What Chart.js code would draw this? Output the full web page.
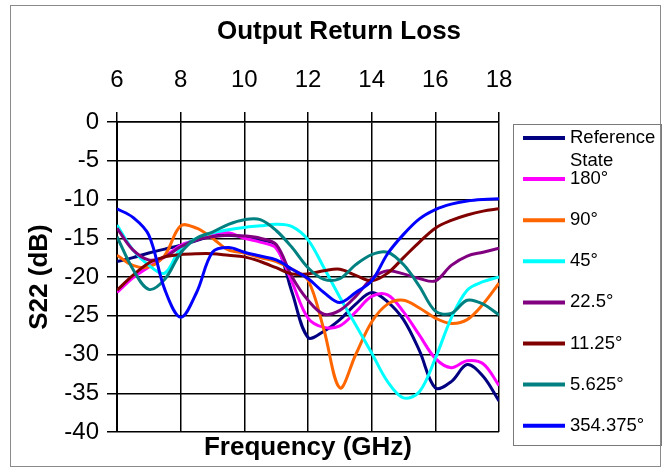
<!DOCTYPE html>
<html><head><meta charset="utf-8">
<script src="https://cdn.jsdelivr.net/npm/chart.js@4.4.1/dist/chart.umd.min.js"></script>
<style>html,body{margin:0;padding:0;background:#fff;}#wrap{width:668px;height:471px;position:relative;}</style>
</head><body><div id="wrap"><canvas id="c" width="668" height="471"></canvas></div>
<script>
const freqs = [6,6.5,7,7.5,8,8.5,9,9.5,10,10.5,11,11.5,12,12.5,13,13.5,14,14.5,15,15.5,16,16.5,17,17.5,18];
const refState = [-18,-17.5,-16.9,-16.4,-15.9,-15.3,-14.7,-14.6,-14.8,-15.2,-15.9,-22,-27.8,-27,-25.5,-23.5,-22,-23.2,-25.5,-29.5,-34.3,-33.5,-31.3,-32.8,-36];
const deg180 = [-22,-20.1,-18.7,-17.4,-15.9,-15.2,-14.4,-14.3,-15,-15.5,-16.3,-20.7,-25.3,-26.5,-26.3,-24.5,-22.5,-22.3,-24.5,-27.5,-30.5,-31.7,-30.8,-31.2,-34];
const deg90 = [-17.2,-18.5,-18.7,-17.2,-13.4,-13.7,-15,-16.5,-16.9,-17.5,-18,-19,-20.4,-26.8,-34.3,-30,-25.8,-23.5,-23,-24,-25.3,-26,-25.5,-23.5,-20.8];
const deg45 = [-13.3,-16.5,-18.5,-19.5,-16.3,-15,-14.3,-13.9,-13.6,-13.4,-13.2,-13.5,-15.2,-18.8,-22.6,-26.2,-29.8,-33.5,-35.6,-34.8,-30.5,-25.3,-21.7,-20.6,-20];
const deg22_5 = [-13.7,-16.5,-17.8,-17.4,-16.1,-15.2,-14.8,-14.6,-14.7,-15,-15.8,-20,-23,-24.8,-24.3,-22.5,-20.2,-19.2,-19.6,-20.2,-20.5,-18.5,-17.3,-16.8,-16.3];
const deg11_25 = [-21.7,-19.8,-18.2,-17.4,-17.1,-17,-17,-17.2,-17.4,-18,-18.8,-19.6,-19.6,-19.2,-19,-19.8,-20.5,-19.5,-17.5,-15.5,-13.7,-12.7,-12,-11.5,-11.2];
const deg5_625 = [-14.8,-19,-21.6,-20.3,-16.9,-15,-14.2,-13.2,-12.6,-12.6,-14,-16.2,-18.8,-20.3,-20.2,-18.4,-17.1,-16.8,-18.4,-21.2,-24.4,-24.7,-23,-23.5,-24.9];
const deg354_375 = [-11.2,-12.3,-14.6,-21.6,-25.2,-22,-16.8,-16.2,-16.8,-17.3,-17.8,-19,-20.2,-22,-23.3,-22,-20.5,-17,-14.5,-12.5,-11.3,-10.6,-10.2,-10,-9.9];
const seriesLabels = [['Reference','State'],['180°'],['90°'],['45°'],['22.5°'],['11.25°'],['5.625°'],['354.375°']];
const seriesColors = ['#000080','#FF00FF','#FF6600','#00FFFF','#800080','#800000','#008080','#0000FF'];
const freqTicks = [6,8,10,12,14,16,18];
const dbTicks = [0,-5,-10,-15,-20,-25,-30,-35,-40];

const allSeries = [refState,deg180,deg90,deg45,deg22_5,deg11_25,deg5_625,deg354_375];
const FONT = '"Liberation Sans", Arial, sans-serif';
Chart.defaults.color = '#000';
Chart.defaults.font.family = FONT;

const datasets = allSeries.map((vals,i)=>({
  label: seriesLabels[i].join(' '),
  legendLines: seriesLabels[i],
  data: freqs.map((f,k)=>({x:f,y:vals[k]})),
  borderColor: seriesColors[i],
  backgroundColor: seriesColors[i],
  borderWidth: 3,
  pointRadius: 0,
  tension: 0.35,
  fill: false,
  order: allSeries.length - 1 - i,
  xAxisID: 'x', yAxisID: 'y'
}));

const decor = {
  id: 'decor',
  beforeDraw(chart){
    const ctx = chart.ctx; ctx.save(); ctx.fillStyle='#fff'; ctx.fillRect(0,0,chart.width,chart.height); ctx.restore();
  },
  afterDraw(chart){
    const ctx = chart.ctx; ctx.save();
    ctx.strokeStyle = '#8a8a8a'; ctx.lineWidth = 1;
    ctx.strokeRect(10.5,5.5,650,461);
    ctx.strokeStyle = '#7a7a7a';
    ctx.strokeRect(513.5,124.5,148,321);
    chart.data.datasets.forEach((ds,i)=>{
      const y = 138 + 41.1*i;
      ctx.strokeStyle = ds.borderColor; ctx.lineWidth = 4;
      ctx.beginPath(); ctx.moveTo(523,y); ctx.lineTo(565,y); ctx.stroke();
      ctx.fillStyle = '#000'; ctx.font = '18.5px ' + FONT; ctx.textBaseline = 'middle'; ctx.textAlign = 'left';
      ds.legendLines.forEach((t,k)=>ctx.fillText(t,570,y + k*23));
    });
    ctx.restore();
  }
};

new Chart(document.getElementById('c'), {
  type: 'line',
  data: { datasets },
  plugins: [decor],
  options: {
    responsive: false, animation: false, devicePixelRatio: 1,
    layout: { padding: { left: 10, top: 0, right: 0, bottom: 0 } },
    plugins: {
      legend: { display: false },
      tooltip: { enabled: false },
      title: { display: true, text: 'Output Return Loss', color: '#000',
               font: { size: 26, weight: 'bold', family: FONT }, padding: { top: 16, bottom: 0 } }
    },
    scales: {
      x: {
        type: 'linear', position: 'top', min: 6, max: 18,
        afterBuildTicks: s => { s.ticks = freqTicks.map(v=>({value:v})); },
        afterFit: s => { s.height = 122 - 47.2; },
        ticks: { font: { size: 24, family: FONT }, padding: 17.6, color: '#000', maxRotation: 0 },
        grid: { color: '#000', lineWidth: 1.5, tickLength: 10, drawTicks: true },
        border: { display: true, color: '#000', width: 1.5 }
      },
      x2: {
        type: 'linear', position: 'bottom', min: 6, max: 18,
        afterFit: s => { s.height = 39; },
        ticks: { display: false },
        grid: { display: false }, border: { display: false },
        title: { display: true, text: 'Frequency (GHz)', color: '#000',
                 font: { size: 26, weight: 'bold', family: FONT }, padding: { top: 0, bottom: 7.4 } }
      },
      y: {
        type: 'linear', position: 'left', min: -40, max: 0,
        afterBuildTicks: s => { s.ticks = dbTicks.map(v=>({value:v})); },
        afterFit: s => { s.width = 107; },
        ticks: { font: { size: 24, family: FONT }, padding: 8, color: '#000' },
        grid: { color: '#000', lineWidth: 1.5, tickLength: 10, drawTicks: true },
        border: { display: true, color: '#000', width: 2 },
        title: { display: true, text: 'S22 (dB)', color: '#000',
                 font: { size: 26, weight: 'bold', family: FONT }, padding: { top: 14.4, bottom: 0 } }
      },
      yR: {
        type: 'linear', position: 'right', min: -40, max: 0, display: true,
        afterFit: s => { s.width = 169; },
        ticks: { display: false }, grid: { display: false }, border: { display: false }
      }
    }
  }
});
</script></body></html>
